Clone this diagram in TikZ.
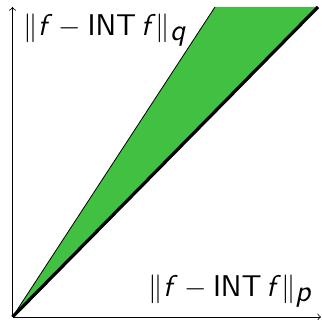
\documentclass[tikz,border=0pt]{standalone}
\usetikzlibrary{positioning}
\definecolor{regiongreen}{RGB}{66,192,66}
\newcommand{\sfvar}[1]{\textsf{\slshape #1\/}}
\newcommand{\normlbl}[1]{$\|\sfvar{f} - \textsf{INT}\,\sfvar{f}\|_{\sfvar{#1}}$}
\begin{document}
\begin{tikzpicture}[
  x=0.5pt, y=0.5pt,
  axis/.style={->, thin},
  bound/.style={ultra thick, black},
  lbl/.style={font=\fontsize{15}{18}\selectfont\sffamily, inner sep=0pt}
]
  \useasboundingbox (0,0) rectangle (322,320);
  \coordinate (o) at (12.5,3);
  \coordinate (xend) at (321,3);
  \coordinate (yend) at (12.5,313);
  \coordinate (tl) at (215,313);
  \coordinate (tr) at (318,313);

  \fill[regiongreen] (o) -- (tl) -- (tr) -- cycle;
  \draw[thin] (o) -- (tl);
  \draw[bound] (o) -- (tr);

  \draw[axis] (o) -- (xend);
  \draw[axis] (o) -- (yend);

  \node[lbl, anchor=base west] (ylbl) at (23,284) {\normlbl{q}};
  \node[lbl, anchor=base east] (xlbl) at (313,23) {\normlbl{p}};
\end{tikzpicture}
\end{document}
